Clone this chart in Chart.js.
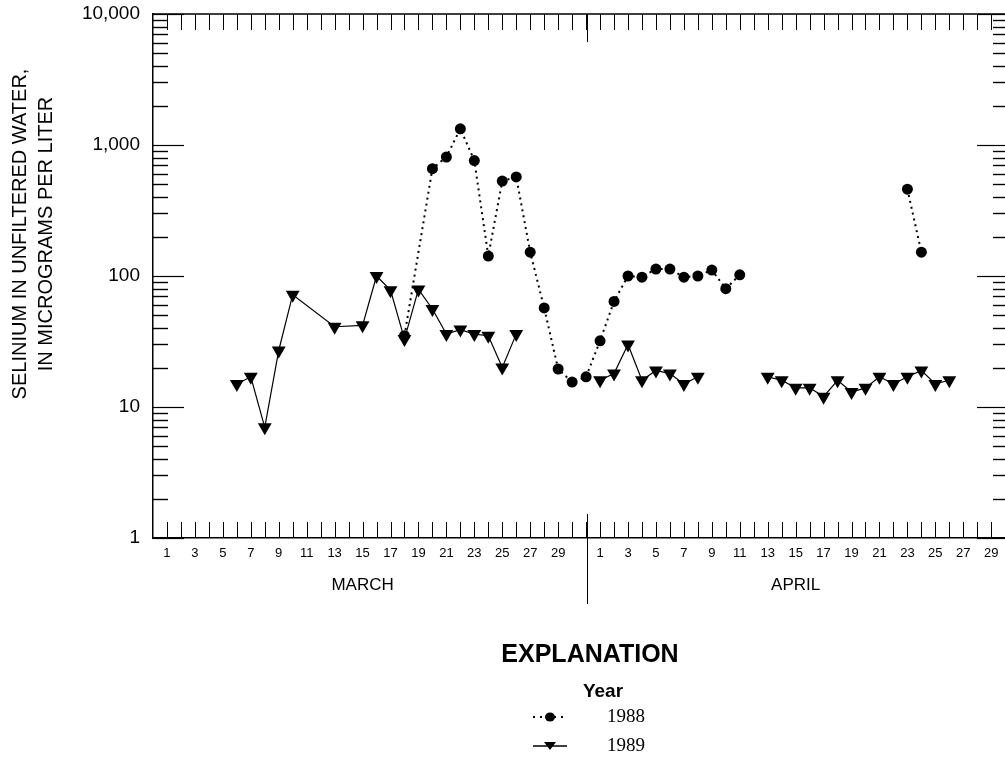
<!DOCTYPE html>
<html>
<head>
<meta charset="utf-8">
<script src="https://cdn.jsdelivr.net/npm/chart.js@4.4.1/dist/chart.umd.min.js"></script>
<style>
  html, body { margin: 0; padding: 0; background: #fff; overflow: hidden; }
</style>
</head>
<body>
<canvas id="chart" width="1016" height="759"></canvas>
<script>
// day number: March 1 = 1 ... March 31 = 31, April 1 = 32 ... April 30 = 61
// null = break in the line (no samples)
const days1988 = [18, 20, 21, 22, 23, 24, 25, 26, 27, 28, 29, 30, 31,
  32, 33, 34, 35, 36, 37, 38, 39, 40, 41, 42, 48, 54, 55];
const selenium1988 = [35, 660, 810, 1330, 760, 142, 530, 570, 152, 57, 19.5, 15.5, 17,
  32, 64, 100, 98, 113, 113, 98, 100, 111, 80, 102, null, 460, 152];

const days1989 = [6, 7, 8, 9, 10, 13, 15, 16, 17, 18, 19, 20, 21, 22, 23, 24, 25, 26, 29,
  32, 33, 34, 35, 36, 37, 38, 39, 41,
  44, 45, 46, 47, 48, 49, 50, 51, 52, 53, 54, 55, 56, 57];
const selenium1989 = [15, 17, 7, 27, 72, 41, 42, 100, 78, 33, 79, 56, 36, 39, 36, 35, 20, 36, null,
  16, 18, 30, 16, 19, 18, 15, 17, null,
  17, 16, 14, 14, 12, 16, 13, 14, 17, 15, 17, 19, 15, 16];

const yTicks = [1, 10, 100, 1000, 10000];
const marchTicks = [1, 3, 5, 7, 9, 11, 13, 15, 17, 19, 21, 23, 25, 27, 29];
const aprilTicks = [1, 3, 5, 7, 9, 11, 13, 15, 17, 19, 21, 23, 25, 27, 29];
const months = ['MARCH', 'APRIL'];
const years = ['1988', '1989'];

const MARCH_DAYS = 31;
const xLabels = new Map();
marchTicks.forEach(d => xLabels.set(d, String(d)));
aprilTicks.forEach(d => xLabels.set(MARCH_DAYS + d, String(d)));
const allDays = Array.from({ length: 61 }, (_, i) => i + 1);

const SANS = "'Liberation Sans', Arial, Helvetica, sans-serif";
const SERIF = "'Liberation Serif', 'Times New Roman', serif";

const toPoints = (days, vals) => days.map((d, i) => ({ x: d, y: vals[i] }));

function line(ctx, x1, y1, x2, y2) {
  ctx.beginPath();
  ctx.moveTo(x1, y1);
  ctx.lineTo(x2, y2);
  ctx.stroke();
}

const frame = {
  id: 'frame',
  beforeDatasetsDraw(chart) {
    const { ctx, chartArea: a, scales: { x, y } } = chart;
    ctx.save();
    ctx.strokeStyle = '#000';
    ctx.lineWidth = 1.5;
    ctx.beginPath();
    ctx.moveTo(a.left, a.top);
    ctx.lineTo(a.right, a.top);
    ctx.lineTo(a.right, a.bottom);
    ctx.stroke();

    ctx.lineWidth = 1;
    allDays.forEach(d => {
      const px = Math.round(x.getPixelForValue(d)) + 0.5;
      line(ctx, px, a.bottom, px, a.bottom - 16);
      line(ctx, px, a.top, px, a.top + 16);
    });
    // month divider
    const mx = Math.round(x.getPixelForValue(MARCH_DAYS + 0.05)) + 0.5;
    line(ctx, mx, a.top, mx, a.top + 28);
    line(ctx, mx, a.bottom - 24, mx, a.bottom + 66);

    // log ticks on left and right
    for (let dec = 1; dec <= 10000; dec *= 10) {
      for (let m = 1; m <= 9; m++) {
        const v = dec * m;
        if (v > 10000) break;
        const py = Math.round(y.getPixelForValue(v)) + 0.5;
        const len = m === 1 ? 31 : 15;
        ctx.lineWidth = m === 1 ? 1.2 : 1.4;
        line(ctx, a.left, py, a.left + len, py);
        line(ctx, a.right - len, py, a.right, py);
      }
    }
    ctx.restore();
  },
  afterDraw(chart) {
    const { ctx, scales: { x } } = chart;
    ctx.save();
    ctx.fillStyle = '#000';
    ctx.textAlign = 'center';
    ctx.textBaseline = 'middle';

    // month names
    ctx.font = `17px ${SANS}`;
    const mStart = [marchTicks[0], MARCH_DAYS + aprilTicks[0]];
    const mEnd = [marchTicks[marchTicks.length - 1], MARCH_DAYS + aprilTicks[aprilTicks.length - 1]];
    months.forEach((m, i) => {
      ctx.fillText(m, x.getPixelForValue((mStart[i] + mEnd[i]) / 2), 585);
    });

    // y axis title
    ctx.font = `20px ${SANS}`;
    [['SELINIUM IN UNFILTERED WATER,', 20, 234], ['IN MICROGRAMS PER LITER', 46, 234]].forEach(([t, tx, ty]) => {
      ctx.save();
      ctx.translate(tx, ty);
      ctx.rotate(-Math.PI / 2);
      ctx.fillText(t, 0, 0);
      ctx.restore();
    });

    // explanation
    ctx.font = `bold 25px ${SANS}`;
    ctx.fillText('EXPLANATION', 590, 655);
    ctx.font = `bold 19px ${SANS}`;
    ctx.fillText('Year', 603, 692);

    ctx.strokeStyle = '#000';
    // 1988 sample
    ctx.lineWidth = 2;
    ctx.setLineDash([2, 5]);
    line(ctx, 533, 717, 568, 717);
    ctx.setLineDash([]);
    ctx.beginPath();
    ctx.ellipse(550, 717, 5, 4.5, 0, 0, Math.PI * 2);
    ctx.fill();
    // 1989 sample
    ctx.lineWidth = 1.5;
    line(ctx, 533, 746, 567, 746);
    ctx.beginPath();
    ctx.moveTo(544, 742);
    ctx.lineTo(556, 742);
    ctx.lineTo(550, 750);
    ctx.closePath();
    ctx.fill();

    ctx.font = `19px ${SERIF}`;
    ctx.textAlign = 'left';
    ctx.fillText(years[0], 607, 717);
    ctx.fillText(years[1], 607, 746);
    ctx.restore();
  }
};

const ctx = document.getElementById('chart');
new Chart(ctx, {
  type: 'line',
  data: {
    datasets: [
      {
        label: years[0],
        data: toPoints(days1988, selenium1988),
        borderColor: '#000',
        borderWidth: 2,
        borderDash: [2, 4],
        pointStyle: 'circle',
        pointRadius: 5.5,
        pointBackgroundColor: '#000',
        pointBorderWidth: 0,
        spanGaps: false,
      },
      {
        label: years[1],
        data: toPoints(days1989, selenium1989),
        borderColor: '#000',
        borderWidth: 1.2,
        pointStyle: 'triangle',
        pointRotation: 180,
        pointRadius: 8,
        pointBackgroundColor: '#000',
        pointBorderWidth: 0,
        spanGaps: false,
      },
    ],
  },
  options: {
    responsive: false,
    animation: false,
    layout: { padding: { top: 14, right: 0, left: 0, bottom: 0 } },
    plugins: { legend: { display: false }, tooltip: { enabled: false } },
    scales: {
      x: {
        type: 'linear',
        min: 0,
        max: 61.2,
        afterFit: s => { s.height = 221; s.paddingLeft = 0; s.paddingRight = 0; },
        afterBuildTicks: s => { s.ticks = allDays.map(v => ({ value: v })); },
        grid: { display: false, drawTicks: false },
        border: { display: true, color: '#000', width: 1.5 },
        ticks: {
          autoSkip: false,
          maxRotation: 0,
          padding: 8,
          color: '#000',
          font: { family: SANS, size: 13 },
          callback: v => xLabels.get(v) || '',
        },
      },
      y: {
        type: 'logarithmic',
        min: 1,
        max: 10000,
        afterFit: s => { s.width = 153; s.paddingTop = 0; s.paddingBottom = 0; },
        afterBuildTicks: s => { s.ticks = yTicks.map(v => ({ value: v })); },
        grid: { display: false, drawTicks: false },
        border: { display: true, color: '#000', width: 1.5 },
        ticks: {
          padding: 13,
          color: '#000',
          font: { family: SANS, size: 19 },
          callback: v => v.toLocaleString('en-US'),
        },
      },
    },
  },
  plugins: [frame],
});
</script>
</body>
</html>
